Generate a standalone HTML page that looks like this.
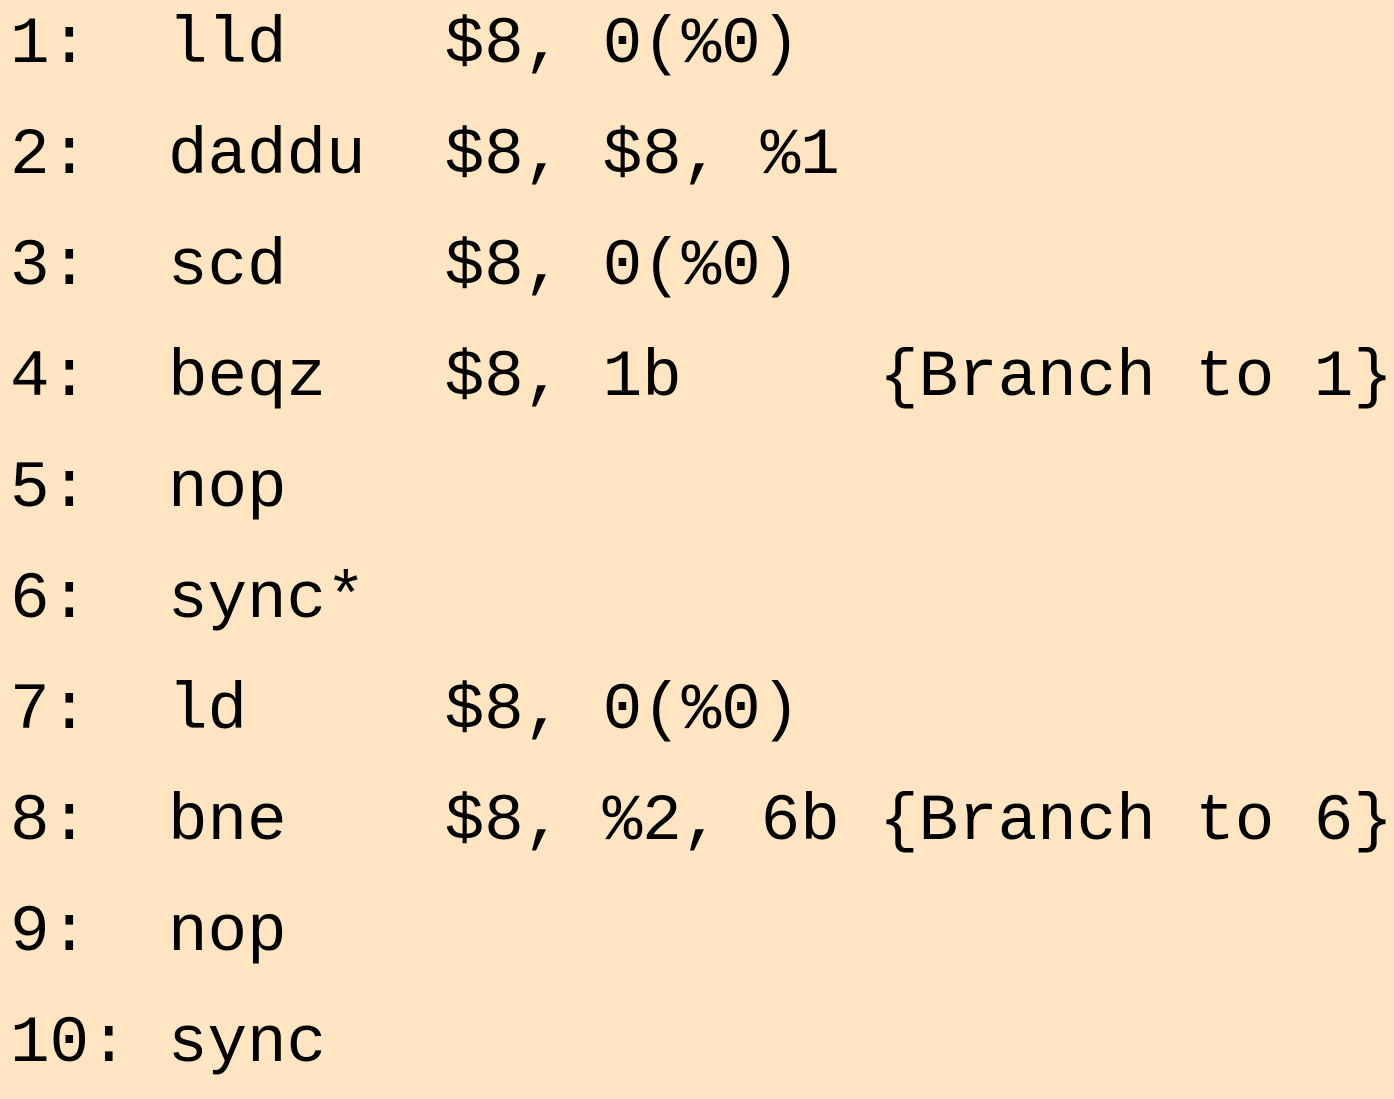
<!DOCTYPE html>
<html><head><meta charset="utf-8"><style>
html,body{margin:0;padding:0;background:#FFE5C2;width:1394px;height:1086px;overflow:hidden;}
pre{position:absolute;left:10px;top:-11px;margin:0;font-family:"Liberation Mono",monospace;font-size:66px;line-height:111px;color:#000;letter-spacing:-0.1px;}
</style></head><body>
<pre>1:  lld    $8, 0(%0)
2:  daddu  $8, $8, %1
3:  scd    $8, 0(%0)
4:  beqz   $8, 1b     {Branch to 1}
5:  nop
6:  sync*
7:  ld     $8, 0(%0)
8:  bne    $8, %2, 6b {Branch to 6}
9:  nop
10: sync</pre>
</body></html>
